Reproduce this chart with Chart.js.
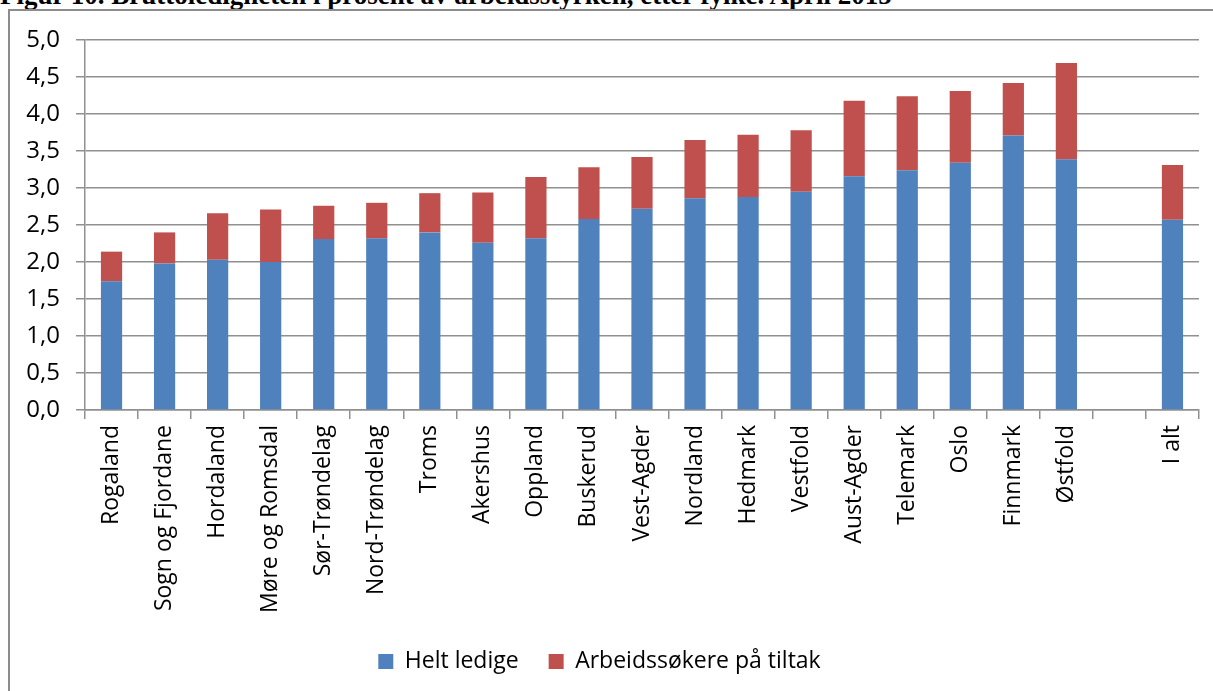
<!DOCTYPE html>
<html>
<head>
<meta charset="utf-8">
<script src="https://cdn.jsdelivr.net/npm/chart.js@4"></script>
<style>
  body { margin: 0; background: #fff; width: 1213px; height: 691px; overflow: hidden; position: relative; }
  #title { position: absolute; left: 0; top: -12px; font: bold 21px "Liberation Serif", "Times New Roman", serif; line-height: 1; white-space: nowrap; color: #000; }
  #frame { position: absolute; left: 8px; top: 9px; width: 1300px; height: 800px; border: 2px solid #8c8c8c; }
  #wrap { position: absolute; left: 0; top: 0; width: 1213px; height: 730px; }
</style>
</head>
<body>
<div id="title">Figur 10. Bruttoledigheten i prosent av arbeidsstyrken, etter fylke. April 2015</div>
<div id="frame"></div>
<div id="wrap"><canvas id="chart" width="1213" height="730"></canvas></div>
<script>
// fylker, tom plass, så landet i alt
const categories = ['Rogaland', 'Sogn og Fjordane', 'Hordaland', 'Møre og Romsdal', 'Sør-Trøndelag',
  'Nord-Trøndelag', 'Troms', 'Akershus', 'Oppland', 'Buskerud', 'Vest-Agder', 'Nordland', 'Hedmark',
  'Vestfold', 'Aust-Agder', 'Telemark', 'Oslo', 'Finnmark', 'Østfold', '', 'I alt'];

const heltLedige = [1.74, 1.98, 2.03, 2.00, 2.31, 2.32, 2.40, 2.26, 2.32, 2.58, 2.72,
  2.86, 2.88, 2.95, 3.16, 3.24, 3.34, 3.71, 3.39, null, 2.57];

const paTiltak = [0.40, 0.42, 0.63, 0.71, 0.45, 0.48, 0.53, 0.68, 0.83, 0.70, 0.70,
  0.79, 0.84, 0.83, 1.02, 1.00, 0.97, 0.71, 1.30, null, 0.74];

const seriesNames = ['Helt ledige', 'Arbeidssøkere på tiltak'];

const BLUE = '#4F81BD';
const RED = '#C0504D';
const GRID = '#909090';
const FONT = '"Open Sans", "Noto Sans", sans-serif';

// stretch the title so it ends where the reference does
(function fitTitle() {
  const el = document.getElementById('title');
  const w = el.getBoundingClientRect().width;
  const size = 21 * 892 / w;
  el.style.fontSize = size + 'px';
  el.style.top = (5 - 0.8375 * size) + 'px';
})();

const ctx = document.getElementById('chart').getContext('2d');
const chart = new Chart(ctx, {
  type: 'bar',
  data: {
    labels: categories,
    datasets: [
      { label: seriesNames[0], data: heltLedige, backgroundColor: BLUE, borderWidth: 0,
        barPercentage: 0.4, categoryPercentage: 1.0 },
      { label: seriesNames[1], data: paTiltak, backgroundColor: RED, borderWidth: 0,
        barPercentage: 0.4, categoryPercentage: 1.0 }
    ]
  },
  options: {
    responsive: false,
    animation: false,
    layout: { padding: { top: 40, right: 14, left: 0, bottom: 47 } },
    plugins: {
      legend: {
        position: 'bottom',
        labels: {
          boxWidth: 15,
          boxHeight: 15,
          padding: 30,
          color: '#000',
          font: { family: FONT, size: 23 }
        }
      },
      title: { display: false },
      tooltip: { enabled: false }
    },
    scales: {
      x: {
        stacked: true,
        afterFit: (axis) => { axis.height = 210; },
        grid: {
          offset: true,
          drawOnChartArea: false,
          drawTicks: true,
          tickLength: 9,
          color: GRID,
          lineWidth: 1.5
        },
        border: { color: GRID, width: 1.5 },
        ticks: {
          autoSkip: false,
          minRotation: 90,
          maxRotation: 90,
          padding: 6,
          color: '#000',
          font: { family: FONT, size: 23 }
        }
      },
      y: {
        stacked: true,
        min: 0,
        max: 5,
        afterFit: (axis) => { axis.width = 85; },
        grid: {
          color: GRID,
          lineWidth: 1.5,
          tickLength: 9
        },
        border: { color: GRID, width: 1.5 },
        ticks: {
          stepSize: 0.5,
          padding: 16,
          color: '#000',
          font: { family: FONT, size: 24 },
          callback: (v) => v.toFixed(1).replace('.', ',')
        }
      }
    }
  }
});
</script>
</body>
</html>
